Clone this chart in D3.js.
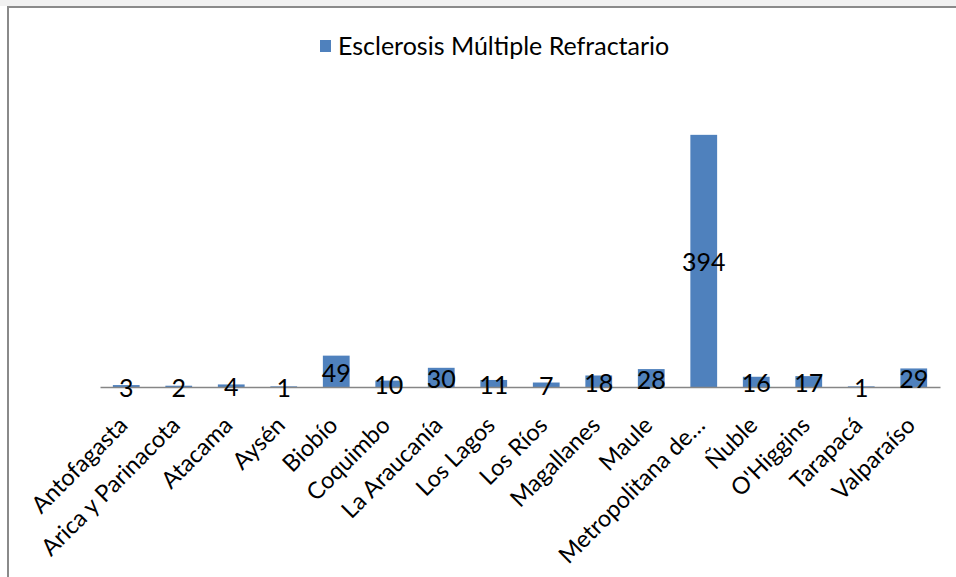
<!DOCTYPE html>
<html><head><meta charset="utf-8">
<script src="https://cdn.jsdelivr.net/npm/d3@7"></script>
<style>html,body{margin:0;padding:0;background:#fff;} svg{display:block;}</style>
</head><body>
<svg id="chart" width="956" height="577"></svg>
<script>
const categories = ["Antofagasta","Arica y Parinacota","Atacama","Aysén","Biobío","Coquimbo","La Araucanía","Los Lagos","Los Ríos","Magallanes","Maule","Metropolitana de…","Ñuble","O'Higgins","Tarapacá","Valparaíso"];
const values = [3,2,4,1,49,10,30,11,7,18,28,394,16,17,1,29];
const seriesName = "Esclerosis Múltiple Refractario";
const yDomain = [0, 450];

const FONT = "Lato, 'Open Sans', sans-serif";
const svg = d3.select("#chart");
const W = 956, H = 577;

// frame
svg.append("rect").attr("x",0).attr("y",0).attr("width",W).attr("height",H).attr("fill","#fff");
svg.append("rect").attr("x",0).attr("y",0).attr("width",W).attr("height",6).attr("fill","#f1f1f1");
svg.append("line").attr("x1",7).attr("x2",W).attr("y1",7).attr("y2",7).attr("stroke","#8a8a8a").attr("stroke-width",2);
svg.append("line").attr("x1",8).attr("x2",8).attr("y1",6).attr("y2",H).attr("stroke","#8a8a8a").attr("stroke-width",2);

const x = d3.scaleBand().domain(categories).range([100,940]).paddingInner(0.49).paddingOuter(0.245);
const y = d3.scaleLinear().domain(yDomain).range([387, 99]);

// bars
svg.append("g").selectAll("rect").data(values).join("rect")
  .attr("x",(d,i)=>x(categories[i]))
  .attr("width",x.bandwidth())
  .attr("y",d=>y(d))
  .attr("height",d=>y(0)-y(d))
  .attr("fill","#4f81bd");

// axis
const xAxis = d3.axisBottom(x).tickSize(0).tickSizeOuter(0);
const gx = svg.append("g").attr("transform",`translate(0,${y(0)})`).call(xAxis);
gx.select(".domain").attr("stroke","#868686").attr("stroke-width",1.3);
gx.selectAll(".tick text")
  .attr("font-family",FONT).attr("font-size",23.5).attr("fill","#000")
  .attr("text-anchor","end")
  .attr("dy","0.35em").attr("y",0)
  .attr("transform","translate(-3,34) rotate(-45)");

// data labels
svg.append("g").selectAll("text").data(values).join("text")
  .attr("x",(d,i)=>x(categories[i])+x.bandwidth()/2)
  .attr("y",d=>(y(d)+y(0))/2)
  .attr("dy","0.42em")
  .attr("text-anchor","middle")
  .attr("font-family",FONT).attr("font-size",25).attr("fill","#000")
  .text(d=>d);

// legend
const lg = svg.append("g");
lg.append("rect").attr("x",320).attr("y",40).attr("width",11).attr("height",12).attr("fill","#4f81bd");
lg.append("text").attr("x",338).attr("y",46).attr("dy","0.35em")
  .attr("font-family",FONT).attr("font-size",25).attr("fill","#000").text(seriesName);
</script>
</body></html>
